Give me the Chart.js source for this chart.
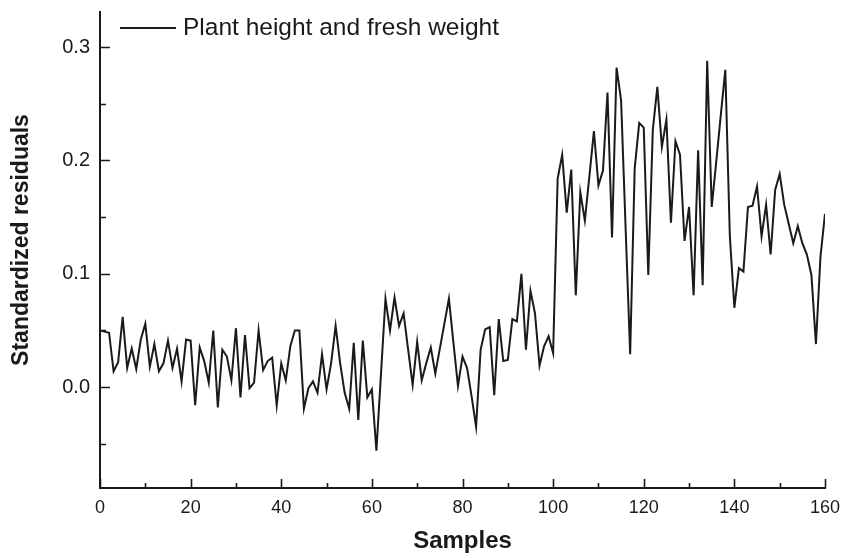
<!DOCTYPE html>
<html>
<head>
<meta charset="utf-8">
<script src="https://cdn.jsdelivr.net/npm/chart.js@4/dist/chart.umd.min.js"></script>
<style>
  html, body { margin: 0; padding: 0; background: #ffffff; }
  #wrap { width: 857px; height: 558px; }
</style>
</head>
<body>
<div id="wrap"><canvas id="chart" width="857" height="558"></canvas></div>
<script>
// Sample index along the x axis
const samples = [
  0, 1, 2, 3, 4, 5, 6, 7, 8, 9, 10, 11, 12, 13, 14, 15, 16, 17, 18, 19,
  20, 21, 22, 23, 24, 25, 26, 27, 28, 29, 30, 31, 32, 33, 34, 35, 36, 37, 38, 39,
  40, 41, 42, 43, 44, 45, 46, 47, 48, 49, 50, 51, 52, 53, 54, 55, 56, 57, 58, 59,
  60, 61, 62, 63, 64, 65, 66, 67, 68, 69, 70, 71, 72, 73, 74, 75, 76, 77, 78, 79,
  80, 81, 82, 83, 84, 85, 86, 87, 88, 89, 90, 91, 92, 93, 94, 95, 96, 97, 98, 99,
  100, 101, 102, 103, 104, 105, 106, 107, 108, 109, 110, 111, 112, 113, 114, 115, 116, 117, 118, 119,
  120, 121, 122, 123, 124, 125, 126, 127, 128, 129, 130, 131, 132, 133, 134, 135, 136, 137, 138, 139,
  140, 141, 142, 143, 144, 145, 146, 147, 148, 149, 150, 151, 152, 153, 154, 155, 156, 157, 158, 159,
  160
];

// Standardized residuals, plant height and fresh weight
const residuals = [
  0.050, 0.049, 0.048, 0.014, 0.022, 0.062, 0.017, 0.034, 0.016, 0.042,
  0.056, 0.018, 0.038, 0.014, 0.021, 0.041, 0.017, 0.034, 0.005, 0.042,
  0.041, -0.016, 0.035, 0.023, 0.004, 0.050, -0.018, 0.033, 0.027, 0.006,
  0.052, -0.009, 0.046, -0.001, 0.004, 0.050, 0.015, 0.023, 0.026, -0.016,
  0.021, 0.006, 0.036, 0.050, 0.050, -0.019, -0.001, 0.005, -0.005, 0.029,
  -0.002, 0.021, 0.054, 0.021, -0.005, -0.019, 0.039, -0.029, 0.041, -0.009,
  -0.002, -0.056, 0.011, 0.078, 0.050, 0.079, 0.054, 0.065, 0.033, 0.002,
  0.040, 0.006, 0.021, 0.035, 0.012, 0.034, 0.056, 0.078, 0.039, 0.001,
  0.027, 0.017, -0.008, -0.035, 0.033, 0.051, 0.053, -0.007, 0.060, 0.023,
  0.024, 0.060, 0.058, 0.100, 0.033, 0.085, 0.065, 0.019, 0.036, 0.045,
  0.030, 0.184, 0.205, 0.154, 0.192, 0.081, 0.172, 0.147, 0.186, 0.226,
  0.178, 0.191, 0.260, 0.132, 0.282, 0.253, 0.140, 0.029, 0.193, 0.233,
  0.229, 0.099, 0.227, 0.265, 0.212, 0.236, 0.145, 0.217, 0.205, 0.129,
  0.159, 0.081, 0.209, 0.090, 0.288, 0.159, 0.199, 0.240, 0.280, 0.133,
  0.070, 0.105, 0.102, 0.159, 0.160, 0.177, 0.133, 0.161, 0.117, 0.174,
  0.188, 0.161, 0.144, 0.127, 0.142, 0.127, 0.117, 0.099, 0.038, 0.115,
  0.153
];

const seriesLabel = 'Plant height and fresh weight';
const xTitle = 'Samples';
const yTitle = 'Standardized residuals';

// Labelled (major) tick values
const xTickValues = [0, 20, 40, 60, 80, 100, 120, 140, 160];
const yTickValues = [0.0, 0.1, 0.2, 0.3];

const FONT = '"Liberation Sans", Arial, Helvetica, sans-serif';
const INK = '#1a1a1a';

// Ticks drawn on the inner side of both axes, with a minor tick between labels
const inwardTicks = {
  id: 'inwardTicks',
  afterDraw(chart) {
    const { ctx, scales: { x, y } } = chart;
    ctx.save();
    ctx.strokeStyle = INK;
    ctx.lineWidth = 1.6;
    ctx.beginPath();
    const xStep = (xTickValues[1] - xTickValues[0]) / 2;
    for (let v = x.min; v <= x.max + 1e-9; v += xStep) {
      const px = Math.round(x.getPixelForValue(v)) + 0.5;
      const major = xTickValues.some(t => Math.abs(t - v) < 1e-9);
      const len = major ? 9 : 5;
      ctx.moveTo(px, y.bottom);
      ctx.lineTo(px, y.bottom - len);
    }
    const yStep = (yTickValues[1] - yTickValues[0]) / 2;
    const yStart = Math.ceil(y.min / yStep) * yStep;
    for (let v = yStart; v <= y.max + 1e-9; v += yStep) {
      const py = Math.round(y.getPixelForValue(v)) + 0.5;
      const major = yTickValues.some(t => Math.abs(t - v) < 1e-9);
      const len = major ? 10 : 6;
      ctx.moveTo(x.left, py);
      ctx.lineTo(x.left + len, py);
    }
    ctx.stroke();
    ctx.restore();
  }
};

// Legend entry inside the plot, top-left
const innerLegend = {
  id: 'innerLegend',
  afterDraw(chart) {
    const { ctx, chartArea } = chart;
    const ds = chart.data.datasets[0];
    const x0 = chartArea.left + 20;
    const yMid = chartArea.top + 16;
    ctx.save();
    ctx.strokeStyle = ds.borderColor;
    ctx.lineWidth = ds.borderWidth;
    ctx.beginPath();
    ctx.moveTo(x0, yMid);
    ctx.lineTo(x0 + 56, yMid);
    ctx.stroke();
    ctx.fillStyle = INK;
    ctx.font = '24.5px ' + FONT;
    ctx.textBaseline = 'middle';
    ctx.textAlign = 'left';
    ctx.fillText(ds.label, x0 + 63, yMid);
    ctx.restore();
  }
};

// Vertical axis title, set a little above the axis midpoint
const yAxisTitle = {
  id: 'yAxisTitle',
  afterDraw(chart) {
    const { ctx, chartArea } = chart;
    ctx.save();
    ctx.translate(22, (chartArea.top + chartArea.bottom) / 2 - 10);
    ctx.rotate(-Math.PI / 2);
    ctx.fillStyle = INK;
    ctx.font = 'bold 23px ' + FONT;
    ctx.textAlign = 'center';
    ctx.textBaseline = 'middle';
    ctx.fillText(yTitle, 0, 0);
    ctx.restore();
  }
};

new Chart(document.getElementById('chart'), {
  type: 'line',
  data: {
    datasets: [{
      label: seriesLabel,
      data: samples.map((s, i) => ({ x: s, y: residuals[i] })),
      borderColor: INK,
      borderWidth: 2,
      pointRadius: 0,
      tension: 0,
      fill: false
    }]
  },
  options: {
    responsive: false,
    animation: false,
    devicePixelRatio: 1,
    layout: { padding: { top: 12, right: 32, left: 0, bottom: 0 } },
    plugins: {
      legend: { display: false },
      tooltip: { enabled: false }
    },
    scales: {
      x: {
        type: 'linear',
        min: 0,
        max: 160,
        afterBuildTicks(scale) { scale.ticks = xTickValues.map(v => ({ value: v })); },
        afterFit(scale) {
          scale.height = 70;
          scale.paddingLeft = 0;
          scale.paddingRight = 0;
        },
        grid: { display: false, drawTicks: false },
        border: { display: true, color: INK, width: 2 },
        ticks: {
          padding: 9,
          color: INK,
          font: { family: FONT, size: 18 },
          maxRotation: 0,
          callback: v => String(v)
        },
        title: {
          display: true,
          text: xTitle,
          color: INK,
          font: { family: FONT, size: 24, weight: 'bold' },
          padding: { top: 0, bottom: 2 }
        }
      },
      y: {
        type: 'linear',
        min: -0.089,
        max: 0.331,
        afterBuildTicks(scale) { scale.ticks = yTickValues.map(v => ({ value: v })); },
        afterFit(scale) {
          scale.width = 100;
          scale.paddingTop = 0;
          scale.paddingBottom = 0;
        },
        grid: { display: false, drawTicks: false },
        border: { display: true, color: INK, width: 2 },
        ticks: {
          padding: 10,
          color: INK,
          font: { family: FONT, size: 20 },
          callback: v => Number(v).toFixed(1)
        },
        title: { display: false }
      }
    }
  },
  plugins: [inwardTicks, innerLegend, yAxisTitle]
});
</script>
</body>
</html>
